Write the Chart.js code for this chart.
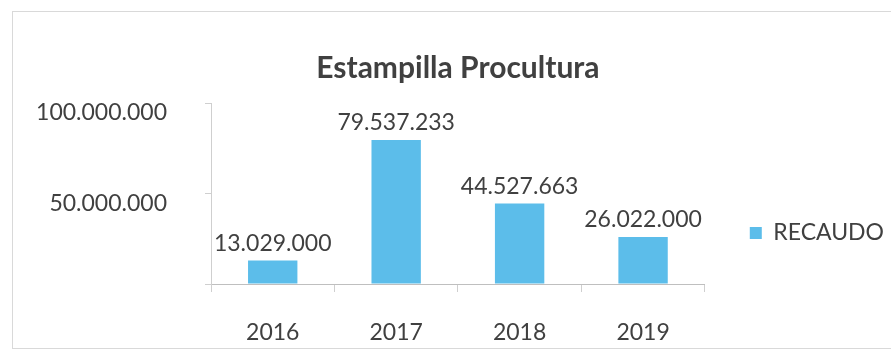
<!DOCTYPE html>
<html>
<head>
<meta charset="utf-8">
<script src="https://cdn.jsdelivr.net/npm/chart.js@4"></script>
<style>
  body { margin: 0; background: #fff; overflow: hidden; }
  #wrap { position: relative; width: 891px; height: 350px; }
  #frame { position: absolute; left: 12px; top: 11px; width: 900px; height: 336px; border: 1px solid #d9d9d9; }
  #chart { position: absolute; left: 0; top: 0; }
</style>
</head>
<body>
<div id="wrap">
  <div id="frame"></div>
  <canvas id="chart" width="891" height="350"></canvas>
</div>
<script>
const years = ['2016', '2017', '2018', '2019'];
const recaudo = [13029000, 79537233, 44527663, 26022000];
const yTicks = [0, 50000000, 100000000];

const textColor = '#404040';
const fmt = v => v.toLocaleString('de-DE');

// value labels above each bar
const barLabels = {
  id: 'barLabels',
  afterDatasetsDraw(chart) {
    const ctx = chart.ctx;
    const meta = chart.getDatasetMeta(0);
    ctx.save();
    ctx.font = '23px Lato';
    ctx.fillStyle = textColor;
    ctx.textAlign = 'center';
    ctx.textBaseline = 'middle';
    meta.data.forEach((bar, i) => {
      ctx.fillText(fmt(recaudo[i]), bar.x, bar.y - 17);
    });
    ctx.restore();
  }
};

new Chart(document.getElementById('chart'), {
  type: 'bar',
  data: {
    labels: years,
    datasets: [{
      label: 'RECAUDO',
      data: recaudo,
      backgroundColor: '#5cbdea',
      categoryPercentage: 0.5,
      barPercentage: 0.8
    }]
  },
  options: {
    responsive: false,
    animation: false,
    layout: { padding: { left: 0, right: -3, top: 0, bottom: 0 } },
    plugins: {
      title: {
        display: true,
        text: 'Estampilla Procultura',
        fullSize: false,
        color: textColor,
        font: { family: 'Lato', size: 30, weight: 'bold' },
        padding: { top: 50, bottom: 17 }
      },
      legend: {
        position: 'right',
        // empty title only pushes the entry down a bit
        title: { display: true, text: '', font: { size: 10 }, padding: { top: 52, bottom: 52 } },
        labels: {
          boxWidth: 12,
          boxHeight: 12,
          padding: 45,
          color: textColor,
          font: { family: 'Lato', size: 23 }
        }
      },
      tooltip: { enabled: false }
    },
    scales: {
      x: {
        afterFit(scale) { scale.height = 66; },
        border: { color: '#bfbfbf' },
        grid: { drawOnChartArea: false, offset: true, tickLength: 8, color: '#cfcfcf' },
        ticks: { color: textColor, padding: 27, font: { family: 'Lato', size: 23 } }
      },
      y: {
        min: 0,
        max: 100000000,
        afterFit(scale) { scale.width = 211; },
        afterBuildTicks(scale) { scale.ticks = yTicks.map(v => ({ value: v })); },
        border: { color: '#cfcfcf' },
        grid: { drawOnChartArea: false, tickLength: 6, color: '#cfcfcf' },
        ticks: {
          color: textColor,
          padding: 38,
          labelOffset: 10,
          font: { family: 'Lato', size: 23 },
          callback: (v) => v === 0 ? '' : fmt(v)
        }
      }
    }
  },
  plugins: [barLabels]
});
</script>
</body>
</html>
